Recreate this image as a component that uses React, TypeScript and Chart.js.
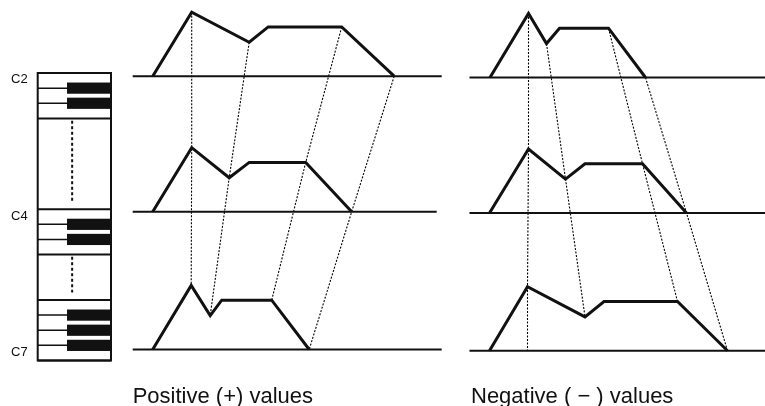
import React, { useEffect, useRef } from "react";
import { Chart, registerables } from "chart.js";

Chart.register(...registerables);

// ---------- DATA ----------
// Envelope level at each breakpoint: start, peak, break, sustain start, sustain end, release end
const levels = [0, 100, 53, 77, 77, 0];
// Key rows (top to bottom)
const rowKeys = ["C2", "C4", "C7"];
// Breakpoint times for each key row, positive key-scaling values
const positiveTimes = [
  [0, 39, 96.5, 115.5, 189, 241.5],
  [0, 39, 76.5, 96.5, 153, 199],
  [0, 38.5, 57.5, 69, 119, 156.5],
];
// Breakpoint times for each key row, negative key-scaling values
const negativeTimes = [
  [0.5, 39, 57, 70, 119, 156],
  [0, 39, 76, 95.5, 153, 197],
  [0, 38, 95.5, 114.5, 188, 238],
];
// Breakpoints joined across the rows by dotted lines
const linkedPoints = [1, 2, 4, 5];
// Breakpoints whose dotted line continues down to the last row's time axis
const positiveDropToAxis: number[] = [];
const negativeDropToAxis = [1];
// Time-axis extent of every row
const positiveAxisSpan = [
  [-20, 289],
  [-20, 284],
  [-20, 289],
];
const negativeAxisSpan = [
  [-20, 276],
  [-20, 276],
  [-20, 276],
];
const captions = ["Positive (+) values", "Negative ( \u2212 ) values"];

// Keyboard: sections (start slot, number of white keys), labels on white-key slots
const keySectionStart = [0, 9, 15];
const keySectionWhite = [3, 3, 4];
const keyLabels = ["C2", "C4", "C7"];
const keyLabelSlot = [0, 9, 18];

// ---------- LAYOUT (not data) ----------
const W = 765;
const H = 406;
const PX_PER_LEVEL = 0.64;
const rowOffset = [0, -211.7, -427];
const yTopL = 76.2 / PX_PER_LEVEL;
const yTopR = 77.5 / PX_PER_LEVEL;
const INK = "#111";

const KEY_TOP_PX = 73;
const KEY_BOTTOM_PX = 360.5;
const KEY_TOTAL = 19;
const keyPpu = (KEY_BOTTOM_PX - KEY_TOP_PX) / KEY_TOTAL;
const KB_LEFT = 37.7;
const KB_RIGHT = 111;
const kbPpu = KB_RIGHT - KB_LEFT;

const keyboardPlugin = {
  id: "keyboardAndCaptions",
  afterDraw(chart: any) {
    const ctx: CanvasRenderingContext2D = chart.ctx;
    const yk = chart.scales.yKey;
    const xk = chart.scales.xKey;
    const left = xk.getPixelForValue(0);
    const right = xk.getPixelForValue(1);
    const blackLeft = xk.getPixelForValue(0.4);
    const dashX = xk.getPixelForValue(0.47);
    ctx.save();
    ctx.strokeStyle = INK;
    ctx.fillStyle = INK;
    // white-key lines and black keys
    keySectionStart.forEach((s, si) => {
      const n = keySectionWhite[si];
      for (let i = 1; i < n; i++) {
        const y = yk.getPixelForValue(s + i);
        ctx.lineWidth = 1.5;
        ctx.beginPath();
        ctx.moveTo(left, y);
        ctx.lineTo(right, y);
        ctx.stroke();
        const y0 = yk.getPixelForValue(s + i - 0.37);
        const y1 = yk.getPixelForValue(s + i + 0.37);
        ctx.fillRect(blackLeft, y0, right - blackLeft, y1 - y0);
      }
      ctx.lineWidth = 2;
      [s, s + n].forEach((v) => {
        const y = yk.getPixelForValue(v);
        ctx.beginPath();
        ctx.moveTo(left, y);
        ctx.lineTo(right, y);
        ctx.stroke();
      });
      // dashed gap marker to the next section
      if (si < keySectionStart.length - 1) {
        const g0 = yk.getPixelForValue(s + n + 0.15);
        const g1 = yk.getPixelForValue(keySectionStart[si + 1] - 0.5);
        ctx.save();
        ctx.lineWidth = 2;
        ctx.setLineDash([3, 2.5]);
        ctx.beginPath();
        ctx.moveTo(dashX, g0);
        ctx.lineTo(dashX, g1);
        ctx.stroke();
        ctx.restore();
      }
    });
    // outer border
    const top = yk.getPixelForValue(0);
    const bottom = yk.getPixelForValue(KEY_TOTAL);
    ctx.lineWidth = 2;
    ctx.strokeRect(left, top, right - left, bottom - top);
    // key labels
    ctx.font = '13px "Liberation Sans", Arial, sans-serif';
    ctx.textAlign = "right";
    ctx.textBaseline = "middle";
    keyLabels.forEach((lab, i) => {
      ctx.fillText(lab, left - 10, yk.getPixelForValue(keyLabelSlot[i] + 0.45));
    });
    // captions
    ctx.font = '22px "Liberation Sans", Arial, sans-serif';
    ctx.textAlign = "left";
    ctx.textBaseline = "alphabetic";
    ctx.fillText(captions[0], chart.scales.xL.getPixelForValue(positiveAxisSpan[2][0]), 402.5);
    ctx.fillText(captions[1], chart.scales.xR.getPixelForValue(negativeAxisSpan[2][0]) + 1.5, 402.5);
    ctx.restore();
  },
};

function buildDatasets() {
  const panels = [
    { times: positiveTimes, spans: positiveAxisSpan, xID: "xL", yID: "yL", drop: positiveDropToAxis },
    { times: negativeTimes, spans: negativeAxisSpan, xID: "xR", yID: "yR", drop: negativeDropToAxis },
  ];
  const base = {
    showLine: true,
    pointRadius: 0,
    pointHoverRadius: 0,
    fill: false,
    tension: 0,
    clip: false as const,
    borderColor: INK,
    backgroundColor: INK,
  };
  const ds: any[] = [];
  panels.forEach((p) => {
    rowKeys.forEach((key, r) => {
      ds.push({
        ...base,
        label: `axis ${key}`,
        xAxisID: p.xID,
        yAxisID: p.yID,
        borderWidth: 2,
        order: 1,
        data: p.spans[r].map((t) => ({ x: t, y: rowOffset[r] })),
      });
      ds.push({
        ...base,
        label: `envelope ${key}`,
        xAxisID: p.xID,
        yAxisID: p.yID,
        borderWidth: 3,
        order: 0,
        data: p.times[r].map((t, i) => ({ x: t, y: rowOffset[r] + levels[i] })),
      });
    });
    linkedPoints.forEach((k) => {
      const pts = rowKeys.map((_, r) => ({ x: p.times[r][k], y: rowOffset[r] + levels[k] }));
      if (p.drop.includes(k)) {
        const last = rowKeys.length - 1;
        pts.push({ x: p.times[last][k], y: rowOffset[last] });
      }
      ds.push({
        ...base,
        label: `link ${k}`,
        xAxisID: p.xID,
        yAxisID: p.yID,
        borderWidth: 1.1,
        borderDash: [2, 1.5],
        borderColor: "#000",
        order: 2,
        data: pts,
      });
    });
  });
  return ds;
}

export default function App() {
  const ref = useRef<HTMLCanvasElement>(null);
  useEffect(() => {
    const hidden = { display: false, bounds: "data" as const, grid: { display: false } };
    const chart = new Chart(ref.current as HTMLCanvasElement, {
      type: "scatter",
      data: { datasets: buildDatasets() },
      options: {
        responsive: false,
        animation: false,
        events: [],
        layout: { padding: 0 },
        plugins: { legend: { display: false }, tooltip: { enabled: false } },
        scales: {
          xL: { ...hidden, type: "linear", axis: "x", min: -152.7, max: W - 152.7 },
          xR: { ...hidden, type: "linear", axis: "x", min: -489.5, max: W - 489.5 },
          yL: { ...hidden, type: "linear", axis: "y", max: yTopL, min: yTopL - H / PX_PER_LEVEL },
          yR: { ...hidden, type: "linear", axis: "y", max: yTopR, min: yTopR - H / PX_PER_LEVEL },
          xKey: { ...hidden, type: "linear", axis: "x", min: -KB_LEFT / kbPpu, max: (W - KB_LEFT) / kbPpu },
          yKey: {
            ...hidden,
            type: "linear",
            axis: "y",
            reverse: true,
            min: -KEY_TOP_PX / keyPpu,
            max: KEY_TOTAL + (H - KEY_BOTTOM_PX) / keyPpu,
          },
        } as any,
      },
      plugins: [keyboardPlugin],
    });
    return () => chart.destroy();
  }, []);
  return (
    <div style={{ position: "absolute", left: 0, top: 0, width: W, height: H, background: "#fff" }}>
      <canvas ref={ref} width={W} height={H} style={{ display: "block", width: W, height: H }} />
    </div>
  );
}
